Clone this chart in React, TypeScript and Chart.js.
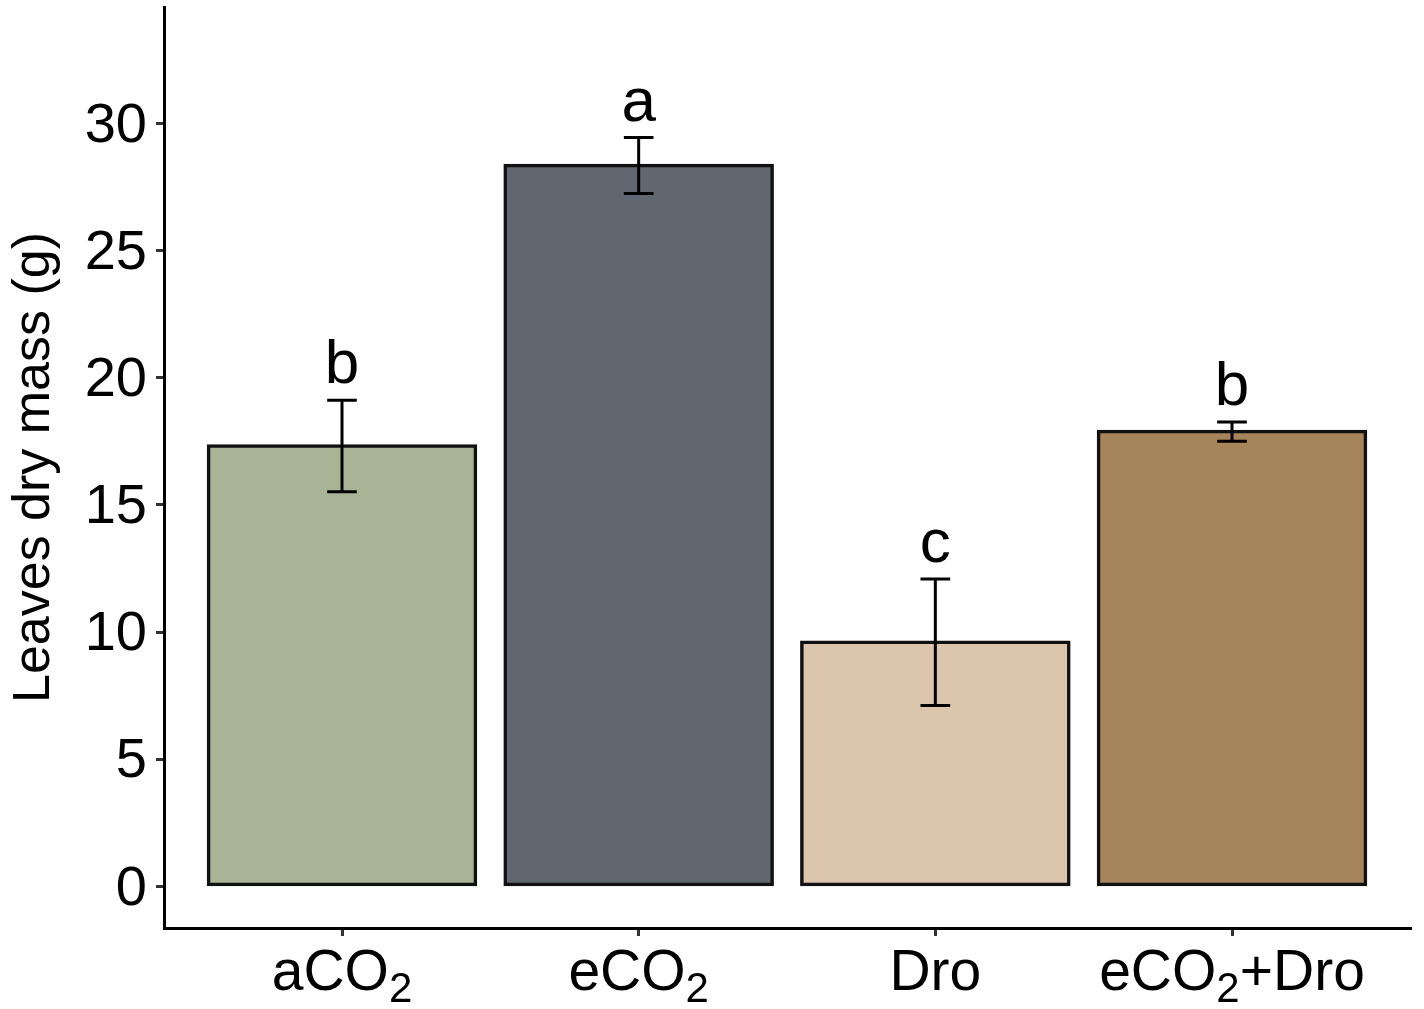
import React, { useEffect, useRef } from "react";
import { Chart, registerables } from "chart.js";

Chart.register(...registerables);

const categories = ["aCO2", "eCO2", "Dro", "eCO2+Dro"];
const means = [17.32, 28.36, 9.6, 17.89];
const se = [1.8, 1.1, 2.49, 0.38];
const letters = ["b", "a", "c", "b"];
const barColors = ["#A9B396", "#616770", "#DCC5AD", "#A7855C"];
const yTicks = [0, 5, 10, 15, 20, 25, 30];

const FONT = "'Liberation Sans', Arial, sans-serif";

// split "eCO2+Dro" into pieces, the 2 after CO is a subscript
function splitSub(label: string) {
  const parts: { text: string; sub: boolean }[] = [];
  let buf = "";
  for (let i = 0; i < label.length; i++) {
    const ch = label[i];
    if (ch === "2" && label[i - 1] === "O") {
      if (buf) parts.push({ text: buf, sub: false });
      parts.push({ text: ch, sub: true });
      buf = "";
    } else {
      buf += ch;
    }
  }
  if (buf) parts.push({ text: buf, sub: false });
  return parts;
}

const errorBarPlugin = {
  id: "errorBars",
  afterDatasetsDraw(chart: any) {
    const { ctx, scales } = chart;
    const x = scales.x;
    const y = scales.y;
    const meta = chart.getDatasetMeta(0);
    ctx.save();
    ctx.strokeStyle = "#000";
    ctx.fillStyle = "#000";
    ctx.lineWidth = 3;
    meta.data.forEach((bar: any, i: number) => {
      const cx = bar.x;
      const half = x.getPixelForValue(i + 1.05) - x.getPixelForValue(i + 1);
      const top = y.getPixelForValue(means[i] + se[i]);
      const bottom = y.getPixelForValue(means[i] - se[i]);
      ctx.beginPath();
      ctx.moveTo(cx, top);
      ctx.lineTo(cx, bottom);
      ctx.moveTo(cx - half, top);
      ctx.lineTo(cx + half, top);
      ctx.moveTo(cx - half, bottom);
      ctx.lineTo(cx + half, bottom);
      ctx.stroke();

      ctx.font = `62px ${FONT}`;
      ctx.textAlign = "center";
      ctx.textBaseline = "alphabetic";
      ctx.fillText(letters[i], cx, top - 17);
    });
    ctx.restore();
  },
};

const xLabelPlugin = {
  id: "xLabels",
  afterDraw(chart: any) {
    const { ctx, chartArea, scales } = chart;
    const x = scales.x;
    ctx.save();
    ctx.fillStyle = "#000";
    ctx.textAlign = "left";
    ctx.textBaseline = "alphabetic";
    categories.forEach((label, i) => {
      const parts = splitSub(label);
      const widths = parts.map((p) => {
        ctx.font = p.sub ? `42px ${FONT}` : `57px ${FONT}`;
        return ctx.measureText(p.text).width;
      });
      const total = widths.reduce((a, b) => a + b, 0);
      let px = x.getPixelForValue(i + 1) - total / 2;
      parts.forEach((p, j) => {
        ctx.font = p.sub ? `42px ${FONT}` : `57px ${FONT}`;
        ctx.fillText(p.text, px, chartArea.bottom + 62 + (p.sub ? 12 : 0));
        px += widths[j];
      });
    });
    ctx.restore();
  },
};

export default function App() {
  const chartRef = useRef<HTMLCanvasElement>(null);

  useEffect(() => {
    if (!chartRef.current) return;
    Chart.defaults.font.family = FONT;
    const chart = new Chart(chartRef.current, {
      type: "bar",
      data: {
        datasets: [
          {
            data: categories.map((_, i) => ({ x: i + 1, y: means[i] })),
            backgroundColor: barColors,
            borderColor: "#111",
            borderWidth: 3.5,
            inflateAmount: 1.75,
            borderSkipped: false,
            barPercentage: 0.9,
            categoryPercentage: 1,
          },
        ],
      },
      options: {
        responsive: false,
        animation: false,
        layout: { padding: { top: 7, right: 14, left: 0, bottom: 0 } },
        plugins: {
          legend: { display: false },
          tooltip: { enabled: false },
        },
        scales: {
          x: {
            type: "linear",
            min: 0.4,
            max: 4.6,
            offset: false,
            afterBuildTicks: (scale: any) => {
              scale.ticks = categories.map((_, i) => ({ value: i + 1 }));
            },
            afterFit: (scale: any) => {
              scale.height = 81;
              scale.paddingLeft = 0;
              scale.paddingRight = 0;
            },
            ticks: { display: false },
            grid: {
              display: true,
              offset: false,
              drawOnChartArea: false,
              drawTicks: true,
              tickLength: 8,
              lineWidth: 3,
              color: "#333",
            },
            border: { display: true, color: "#000", width: 3 },
          },
          y: {
            min: -1.65,
            max: 34.6,
            afterBuildTicks: (scale: any) => {
              scale.ticks = yTicks.map((v) => ({ value: v }));
            },
            afterFit: (scale: any) => {
              scale.width = 164;
              scale.paddingTop = 0;
              scale.paddingBottom = 0;
            },
            ticks: {
              font: { size: 56, family: FONT },
              color: "#000",
              padding: 9,
              labelOffset: 3,
            },
            grid: {
              display: true,
              drawOnChartArea: false,
              drawTicks: true,
              tickLength: 8,
              lineWidth: 3,
              color: "#333",
            },
            border: { display: true, color: "#000", width: 3 },
            title: {
              display: true,
              text: "Leaves dry mass (g)",
              font: { size: 52, family: FONT },
              color: "#000",
              padding: { top: 3, bottom: 0 },
            },
          },
        },
      },
      plugins: [errorBarPlugin, xLabelPlugin],
    } as any);

    return () => {
      chart.destroy();
    };
  }, []);

  return (
    <div
      style={{
        position: "fixed",
        left: 0,
        top: 0,
        width: 1424,
        height: 1009,
        background: "#fff",
      }}
    >
      <canvas ref={chartRef} width={1424} height={1009} style={{ display: "block" }} />
    </div>
  );
}
